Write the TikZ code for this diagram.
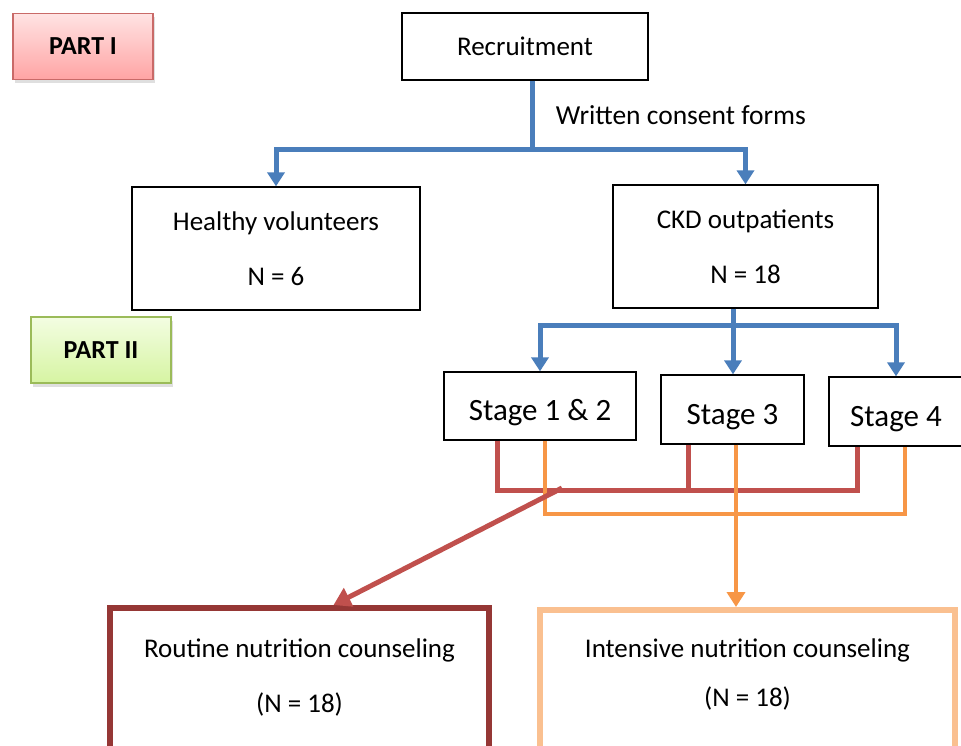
\documentclass[tikz,border=0pt]{standalone}
\usepackage{fontspec}
\setmainfont{Carlito}
\usetikzlibrary{arrows.meta,shadows}
\definecolor{flowblue}{HTML}{4A7EBB}
\definecolor{flowred}{HTML}{C0504D}
\definecolor{floworange}{HTML}{F79646}
\definecolor{routinecol}{HTML}{953735}
\definecolor{intensivecol}{HTML}{FAC090}
\definecolor{partItop}{HTML}{FFE3E3}
\definecolor{partIbot}{HTML}{FFA4A4}
\definecolor{partIItop}{HTML}{F3FDE2}
\definecolor{partIIbot}{HTML}{D6F4A2}
\definecolor{partIIline}{HTML}{9BBB59}
\begin{document}
\begin{tikzpicture}[x=1pt,y=-1pt,
		box/.style={draw,line width=1.3pt,align=center,inner sep=0pt,font=\fontsize{27}{55}\selectfont},
		stagebox/.style={box,font=\fontsize{31}{36}\selectfont,text height=29pt,text depth=0pt},
		part/.style={draw,line width=1.5pt,inner sep=0pt,minimum width=140pt,minimum height=66pt,font=\fontsize{26}{30}\selectfont\bfseries,drop shadow={opacity=0.25,shadow xshift=2pt,shadow yshift=-4pt}},
		blueline/.style={draw=flowblue,line width=5pt},
		bluearrow/.style={blueline,-{Triangle[width=17pt,length=14pt]}},
		redline/.style={draw=flowred,line width=5pt},
		orangeline/.style={draw=floworange,line width=4.5pt},
		orangearrow/.style={orangeline,-{Triangle[width=18pt,length=15pt]}},
		redarrow/.style={redline,-{Triangle[width=20pt,length=17pt]}}]
		\useasboundingbox (0,0) rectangle (961,746);
		\clip (0,0) rectangle (961,746);
		\node[part,top color=partItop,bottom color=partIbot,draw=flowred!85] (part1) at (83,46.5) {PART I};
		\node[part,top color=partIItop,bottom color=partIIbot,draw=partIIline] (part2) at (101,350) {PART II};
		\node[box,minimum width=246pt,minimum height=67pt] (recruit) at (525,46.5) {Recruitment};
		\node[box,minimum width=288pt,minimum height=123pt] (healthy) at (276,248.5) {Healthy volunteers\\N = 6};
		\node[box,minimum width=265pt,minimum height=123pt] (ckd) at (745.5,246.5) {CKD outpatients\\N = 18};
		\node[stagebox,minimum width=192pt,minimum height=68pt] (stage12) at (540,406) {Stage 1 \& 2};
		\node[stagebox,minimum width=143pt,minimum height=69pt] (stage3) at (732.5,409.5) {Stage 3};
		\node[stagebox,minimum width=134pt,minimum height=69pt] (stage4) at (896,411.5) {Stage 4};
		\node[box,draw=routinecol,line width=6pt,minimum width=379pt,minimum height=142pt] (routine) at (299.5,679) {Routine nutrition counseling\\(N = 18)\rule[-6pt]{0pt}{0pt}};
		\node[box,draw=intensivecol,line width=6pt,font=\fontsize{27}{49}\selectfont,minimum width=415pt,minimum height=142pt] (intensive) at (747.5,681) {Intensive nutrition counseling\\(N = 18)\rule[-16pt]{0pt}{0pt}};
		
		\coordinate (split1) at (532,150);
		\coordinate (split2) at (733,325);
		\draw[blueline] (recruit.south -| split1) -- node[right=18pt,font=\fontsize{27.5}{30}\selectfont] (consent) {Written consent forms} (split1);
		\draw[bluearrow] (split1) -| (healthy.north);
		\draw[bluearrow] (split1) -| (ckd.north);
		\draw[blueline] (ckd.south -| split2) -- (split2);
		\draw[bluearrow] (split2) -| (stage12.north);
		\draw[bluearrow] (split2) -- (split2 |- stage3.north);
		\draw[bluearrow] (split2) -| (stage4.north);
		
		\coordinate (redL) at (497,490);
		\coordinate (redM) at (688,490);
		\coordinate (redR) at (857,490);
		\coordinate (redout) at (562,488);
		\draw[redline] (stage12.south -| redL) -- (redL) -- (redR) -- (stage4.south -| redR);
		\draw[redline] (stage3.south -| redM) -- (redM);
		\coordinate (orL) at (545,514);
		\coordinate (orM) at (736,514);
		\coordinate (orR) at (905,514);
		\draw[orangeline] (stage12.south -| orL) -- (orL) -- (orR) -- (stage4.south -| orR);
		\draw[orangearrow] (stage3.south -| orM) -- (orM |- intensive.north);
		\draw[redarrow] (redout) -- ([xshift=34pt]routine.north);
		
		\end{tikzpicture}
\end{document}
